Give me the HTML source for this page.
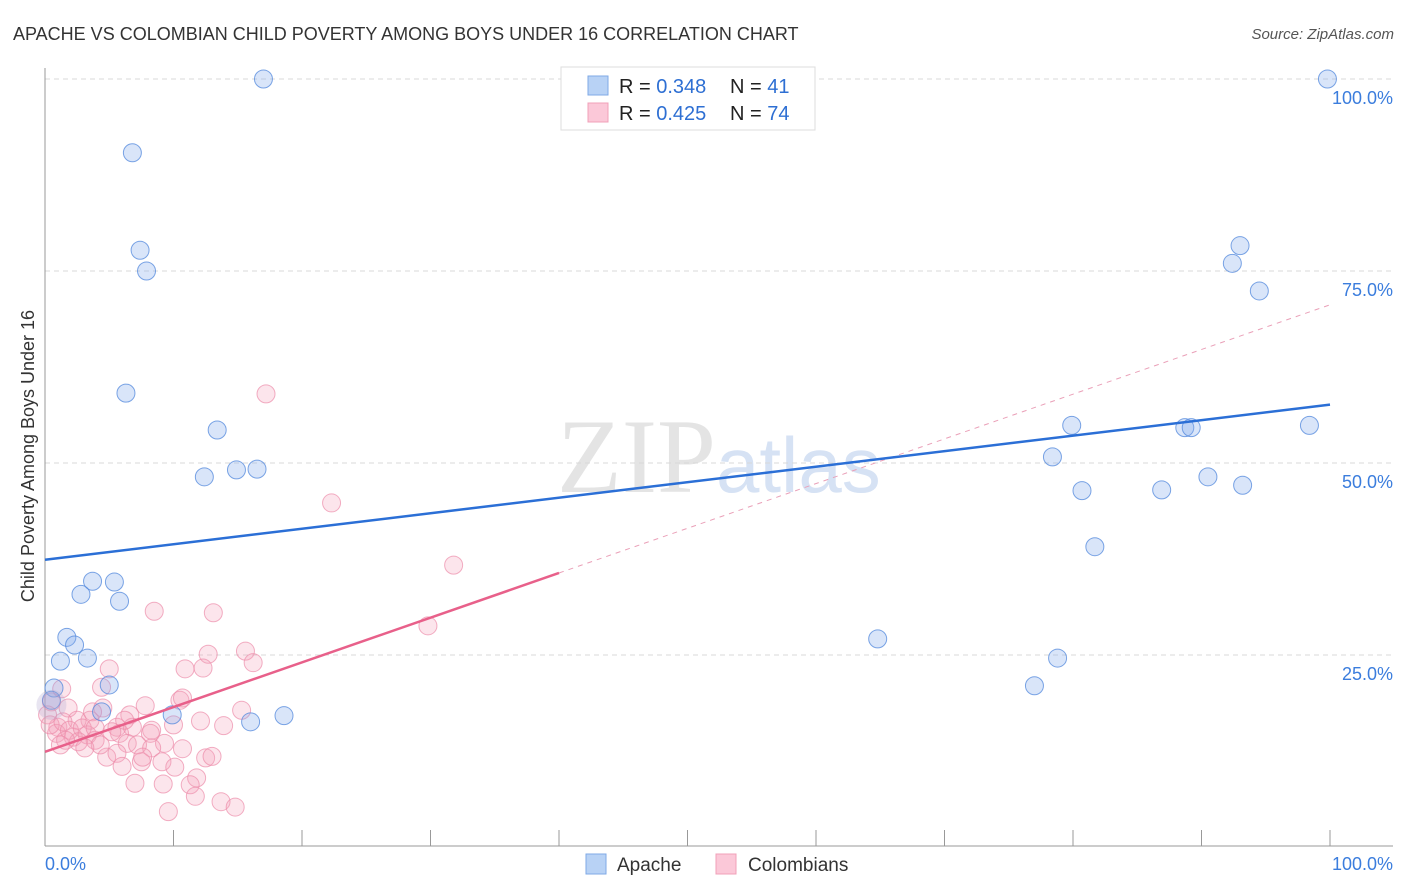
<!DOCTYPE html>
<html><head><meta charset="utf-8"><style>
body{margin:0;background:#fff;font-family:"Liberation Sans",sans-serif;}
svg{display:block}
</style></head><body>
<svg id="chart" width="1406" height="892">
<text x="13" y="40" font-size="18" fill="#333">APACHE VS COLOMBIAN CHILD POVERTY AMONG BOYS UNDER 16 CORRELATION CHART</text>
<text x="1394" y="39" font-size="15" fill="#555" font-style="italic" text-anchor="end">Source: ZipAtlas.com</text>
<text x="716" y="492" font-size="106" fill="#e4e4e4" font-family="Liberation Serif,serif" text-anchor="end">ZIP</text>
<text x="716" y="492" font-size="78" fill="#d6e2f4">atlas</text>
<text transform="translate(34,456) rotate(-90)" font-size="18" fill="#333" text-anchor="middle">Child Poverty Among Boys Under 16</text>
<g id="grid"></g><g id="axes"></g><g id="marks"></g>
<g>
<rect x="561" y="67" width="254" height="63" fill="#fff" stroke="#ddd"/>
<rect x="588" y="76" width="20" height="19" fill="#b8d2f5" stroke="#7fa9e6"/>
<rect x="588" y="103" width="20" height="19" fill="#fbc8d8" stroke="#f0a0b8"/>
<text x="619" y="93" font-size="20" fill="#222">R = <tspan fill="#2e6fd3">0.348</tspan><tspan x="730">N = </tspan><tspan fill="#2e6fd3">41</tspan></text>
<text x="619" y="120" font-size="20" fill="#222">R = <tspan fill="#2e6fd3">0.425</tspan><tspan x="730">N = </tspan><tspan fill="#2e6fd3">74</tspan></text>
</g>
<g>
<rect x="586" y="854" width="20" height="20" fill="#b8d2f5" stroke="#7fa9e6"/>
<text x="617" y="871" font-size="19" fill="#333">Apache</text>
<rect x="716" y="854" width="20" height="20" fill="#fbc8d8" stroke="#f0a0b8"/>
<text x="748" y="871" font-size="19" fill="#333">Colombians</text>
</g>
</svg>
<script>
const apacheX=[17.0,99.8,6.8,7.4,7.9,6.3,13.4,12.4,14.9,16.5,3.7,5.4,2.8,5.8,1.7,2.3,1.2,3.3,0.7,5.0,0.5,4.4,9.9,16.0,18.6,64.8,77.0,78.8,79.9,78.4,80.7,81.7,86.9,88.7,89.2,90.5,93.2,92.4,93.0,94.5,98.4];
const apacheY=[100,100,90.4,77.7,75.0,59.1,54.3,48.2,49.1,49.2,34.6,34.5,32.9,32.0,27.3,26.3,24.2,24.6,20.7,21.1,19.1,17.6,17.2,16.3,17.1,27.1,21.0,24.6,54.9,50.8,46.4,39.1,46.5,54.6,54.6,48.2,47.1,76.0,78.3,72.4,54.9];
const colX=[8.5,13.1,12.7,15.6,16.2,10.9,12.3,5.0,4.4,1.3,0.5,1.8,4.5,7.8,10.5,10.7,15.3,12.1,13.9,10.0,6.6,5.6,3.5,2.5,1.0,0.9,2.2,3.3,3.9,5.8,6.8,8.3,8.2,6.4,7.2,9.3,10.7,8.3,4.8,5.6,6.0,7.5,7.6,9.1,10.1,12.5,13.0,11.8,11.3,11.7,7.0,9.2,13.7,14.8,9.6,17.2,22.3,31.8,29.8,0.2,0.4,1.4,1.9,2.9,3.7,2.6,1.6,4.3,5.2,6.2,1.2,3.1,3.9];
const colY=[30.7,30.5,25.1,25.5,24.0,23.2,23.3,23.2,20.8,20.6,18.9,18.1,18.1,18.4,19.1,19.4,17.8,16.4,15.8,15.9,17.2,15.6,16.5,16.5,15.6,14.8,14.3,14.6,13.9,14.8,15.6,15.2,14.8,13.5,13.3,13.5,12.8,12.9,11.7,12.2,10.5,11.1,11.7,11.1,10.4,11.6,11.8,9.0,8.1,6.6,8.3,8.2,5.9,5.2,4.6,59.0,44.8,36.7,28.8,17.2,15.9,16.3,15.2,15.5,17.6,13.7,13.9,13.3,15.0,16.5,13.3,12.9,15.5];
const yTicks=[25,50,75,100];
const yTickLabels=["25.0%","50.0%","75.0%","100.0%"];
const xTickLabels=["0.0%","100.0%"];
const apacheTrend=[37.4,57.6]; // value at x=0, x=100
const colTrend=[12.4,70.6];
const colSolidEnd=40;

const NS="http://www.w3.org/2000/svg";
const X=v=>45+v*12.85, Y=v=>847-v*7.68;
function mk(tag,attrs,parent){const e=document.createElementNS(NS,tag);for(const k in attrs)e.setAttribute(k,attrs[k]);parent.appendChild(e);return e;}
const grid=document.getElementById('grid'),axes=document.getElementById('axes'),marks=document.getElementById('marks');
yTicks.forEach((t,i)=>{
 const l=mk('line',{x1:45,x2:1393,y1:Y(t),y2:Y(t),stroke:'#d8d8d8','stroke-dasharray':'5,4'},grid);
 
 
 const tx=mk('text',{x:1393,y:Y(t)+25,'font-size':18,fill:'#3b7ddd','text-anchor':'end'},axes);
 tx.textContent=yTickLabels[i];
 
 
});
const ax=mk('line',{x1:45,x2:45,y1:68,y2:846,stroke:'#999'},axes);


const bx=mk('line',{x1:45,x2:1393,y1:846,y2:846,stroke:'#999'},axes);


for(let i=1;i<=10;i++){
 const t=mk('line',{x1:X(i*10),x2:X(i*10),y1:830,y2:846,stroke:'#999'},axes);
 
 
}
[[0,'start',45],[100,'end',1393]].forEach((d,i)=>{
 const tx=mk('text',{x:d[2],y:870,'font-size':18,fill:'#3b7ddd','text-anchor':d[1]},axes);
 tx.textContent=xTickLabels[i];
 
 
});
colX.forEach((x,i)=>{
 const c=mk('circle',{cx:X(x),cy:Y(colY[i]),r:9,fill:'rgba(246,160,185,0.28)',stroke:'rgba(236,140,170,0.7)','stroke-width':1},marks);
 
 
});
apacheX.forEach((x,i)=>{
 const c=mk('circle',{cx:X(x),cy:Y(apacheY[i]),r:9,fill:'rgba(130,170,235,0.3)',stroke:'rgba(80,135,220,0.75)','stroke-width':1},marks);
 
 
});
const big=mk('circle',{cx:X(0.5),cy:Y(18.5),r:15,fill:'rgba(180,170,210,0.3)',stroke:'none'},marks);


const ct=v=>colTrend[0]+(colTrend[1]-colTrend[0])*v/100;
const pd=mk('line',{x1:X(colSolidEnd),y1:Y(ct(colSolidEnd)),x2:X(100),y2:Y(ct(100)),stroke:'#eaa0b8','stroke-width':1,'stroke-dasharray':'5,5'},marks);


const ps=mk('line',{x1:X(0),y1:Y(ct(0)),x2:X(colSolidEnd),y2:Y(ct(colSolidEnd)),stroke:'#e8608a','stroke-width':2.5},marks);


const bl=mk('line',{x1:X(0),y1:Y(apacheTrend[0]),x2:X(100),y2:Y(apacheTrend[1]),stroke:'#2b6fd6','stroke-width':2.5},marks);


</script>
</body></html>
